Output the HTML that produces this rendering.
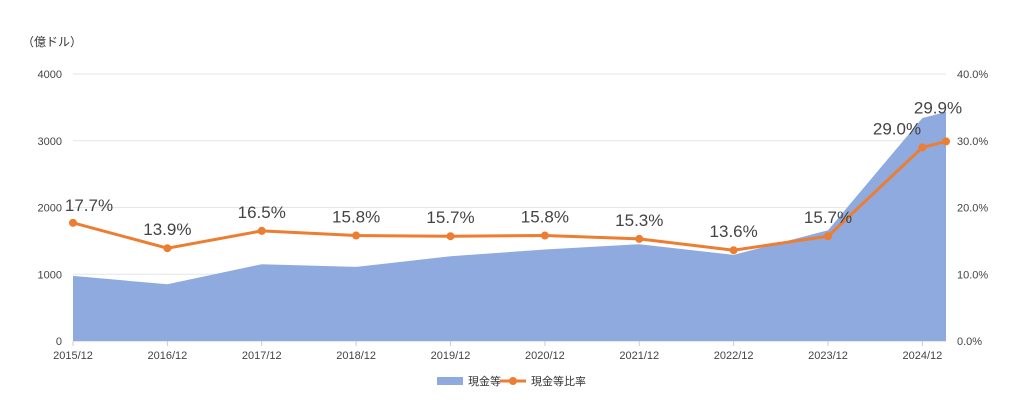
<!DOCTYPE html>
<html><head><meta charset="utf-8"><style>
body{margin:0;background:#fff;font-family:"Liberation Sans","Noto Sans CJK JP",sans-serif;}
svg text{font-family:"Liberation Sans","Noto Sans CJK JP",sans-serif;}
</style></head><body>
<svg id="chart" width="1024" height="415" xmlns="http://www.w3.org/2000/svg">
<text x="22" y="46" font-size="12" fill="#333">（億ドル）</text>
<g id="grid"></g><g id="area"></g><g id="line"></g><g id="axes"></g><g id="labels"></g>
<g>
<rect x="437" y="377" width="26" height="8" fill="#8eaadf"/>
<text x="468" y="385" font-size="11" fill="#333">現金等</text>
<line x1="500" y1="381" x2="526" y2="381" stroke="#ed7d31" stroke-width="3"/>
<circle cx="513" cy="381" r="4" fill="#ed7d31"/>
<text x="531" y="385" font-size="11" fill="#333">現金等比率</text>
</g>
</svg>
<script>
const months = [0,12,24,36,48,60,72,84,96,108,111];
const categories = ["2015/12","2016/12","2017/12","2018/12","2019/12","2020/12","2021/12","2022/12","2023/12","2024/12",""];
const cash = [975,850,1150,1110,1270,1370,1450,1290,1660,3340,3430];
const ratio = [17.7,13.9,16.5,15.8,15.7,15.8,15.3,13.6,15.7,29.0,29.9];
const leftTicks = [0,1000,2000,3000,4000];
const rightTicks = ["0.0%","10.0%","20.0%","30.0%","40.0%"];
const NS="http://www.w3.org/2000/svg";
const x0=73,x1=946,yB=341,yT=74;
const X=m=>x0+(m-months[0])/(months[months.length-1]-months[0])*(x1-x0);
const YL=v=>yB-v/4000*(yB-yT);
const YR=p=>yB-p/40*(yB-yT);
function mk(t,a,parent){const e=document.createElementNS(NS,t);for(const k in a)e.setAttribute(k,a[k]);document.getElementById(parent).appendChild(e);return e;}
leftTicks.forEach((v,i)=>{
  const g=mk("line",{x1:x0,x2:x1,y1:YL(v),y2:YL(v),stroke:i==0?"#ccc":"#e6e6e6"},"grid");
  
  
  const t=mk("text",{x:62,y:YL(v)+4,"font-size":11,fill:"#444","text-anchor":"end"},"axes");t.textContent=v;
  
  
  const r=mk("text",{x:957,y:YL(v)+4,"font-size":11,fill:"#444"},"axes");r.textContent=rightTicks[i];
  
  
});
categories.forEach((c,i)=>{
  if(!c)return;
  const tk=mk("line",{x1:X(months[i]),x2:X(months[i]),y1:yB,y2:yB+5,stroke:"#ccc"},"axes");
  
  
  const t=mk("text",{x:X(months[i]),y:359,"font-size":11,fill:"#444","text-anchor":"middle"},"axes");t.textContent=c;
  
  
});
let d="M"+X(months[0])+","+yB;
cash.forEach((v,i)=>d+=" L"+X(months[i])+","+YL(v));
d+=" L"+X(months[months.length-1])+","+yB+" Z";
const a=mk("path",{d:d,fill:"#8eaadf"},"area");


const pts=ratio.map((p,i)=>X(months[i])+","+YR(p)).join(" ");
const pl=mk("polyline",{points:pts,fill:"none",stroke:"#ed7d31","stroke-width":3},"line");


ratio.forEach((p,i)=>{
  const c=mk("circle",{cx:X(months[i]),cy:YR(p),r:4,fill:"#ed7d31"},"line");
  
  
  let lx=X(months[i]),ly=YR(p)-13;
  if(i==0){lx=89;ly=YR(p)-12;}
  if(i==9){lx=897;}
  if(i==10){lx=938;ly=YR(p)-28;}
  const t=mk("text",{x:lx,y:ly,"font-size":17,fill:"#444","text-anchor":"middle"},"labels");
  t.textContent=p.toFixed(1)+"%";
  
  
});
</script>
</body></html>
